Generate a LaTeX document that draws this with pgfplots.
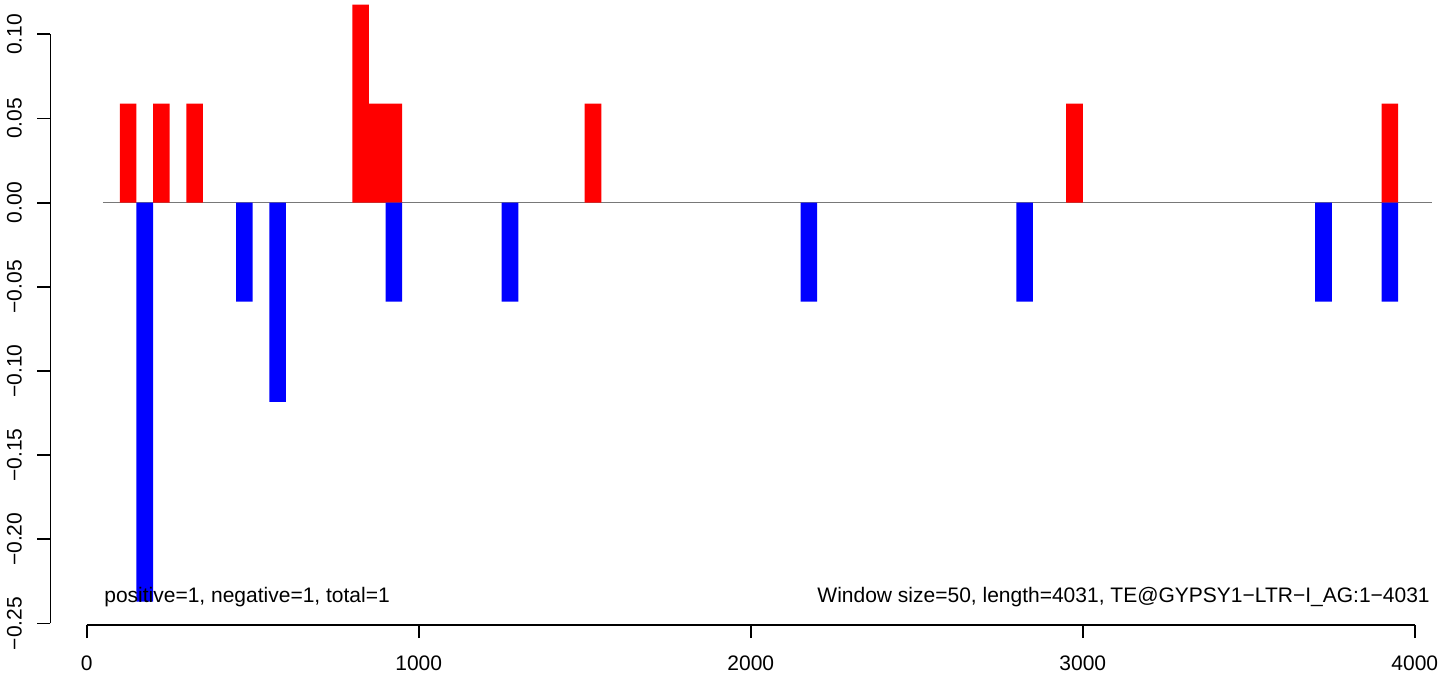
\documentclass[border=0pt]{standalone}
\usepackage{pgfplots}
\pgfplotsset{compat=1.18}
\usepackage{fontspec}
\setmainfont{Liberation Sans}
\definecolor{zeroline}{rgb}{0.47,0.47,0.47}
\begin{document}
\begin{tikzpicture}
\begin{axis}[
  name=ax,
  scale only axis,
  width=699.25pt, height=312.5pt,
  xmin=-109, xmax=4103,
  ymin=-0.2509, ymax=0.1204,
  axis line style={draw=none},
  tick pos=left,
  tick align=outside,
  major tick length=6.5pt,
  major tick style={black, line width=0.9pt},
  xtick={0,1000,2000,3000,4000},
  xticklabels={0,1000,2000,3000,4000},
  ytick={-0.25,-0.2,-0.15,-0.1,-0.05,0,0.05,0.1},
  yticklabels={−0.25,−0.20,−0.15,−0.10,−0.05,0.00,0.05,0.10},
  xticklabel style={anchor=north, inner sep=0pt, yshift=-8.5pt},
  yticklabel style={rotate=90, anchor=south, inner sep=0pt, yshift=7.6pt},
  tick label style={font=\fontsize{10.5}{12}\selectfont},
  clip=false,
]
\addplot[color=zeroline, line width=0.5pt] coordinates {(49,0) (4052,0)};
\addplot[ybar, bar width=50, bar shift=0pt, fill=red, draw=none] coordinates {
(125,0.0588) (225,0.0588) (325,0.0588) (825,0.1176) (875,0.0588) (925,0.0588) (1525,0.0588) (2975,0.0588) (3925,0.0588)};
\addplot[ybar, bar width=50, bar shift=0pt, fill=blue, draw=none] coordinates {
(175,-0.237) (475,-0.0588) (575,-0.1184) (925,-0.0588) (1275,-0.0588) (2175,-0.0588) (2825,-0.0588) (3725,-0.0588) (3925,-0.0588)};
\draw[line width=0.9pt] (axis cs:0,-0.2509) -- (axis cs:4000,-0.2509);
\draw[line width=0.9pt] (axis cs:-109,-0.25) -- (axis cs:-109,0.10);
\node[anchor=base west, inner sep=0pt, font=\fontsize{10.5}{12}\selectfont] at (axis cs:52,-0.2373) {positive=1, negative=1, total=1};
\node[anchor=base east, inner sep=0pt, font=\fontsize{10.5}{12}\selectfont] at (axis cs:4046,-0.2373) {Window size=50, length=4031, TE@GYPSY1−LTR−I\_AG:1−4031};
\end{axis}
\pgfresetboundingbox
\path[use as bounding box] ([xshift=-25.25pt,yshift=-25.5pt]ax.south west) rectangle (ax.north east);
\end{tikzpicture}
\end{document}
